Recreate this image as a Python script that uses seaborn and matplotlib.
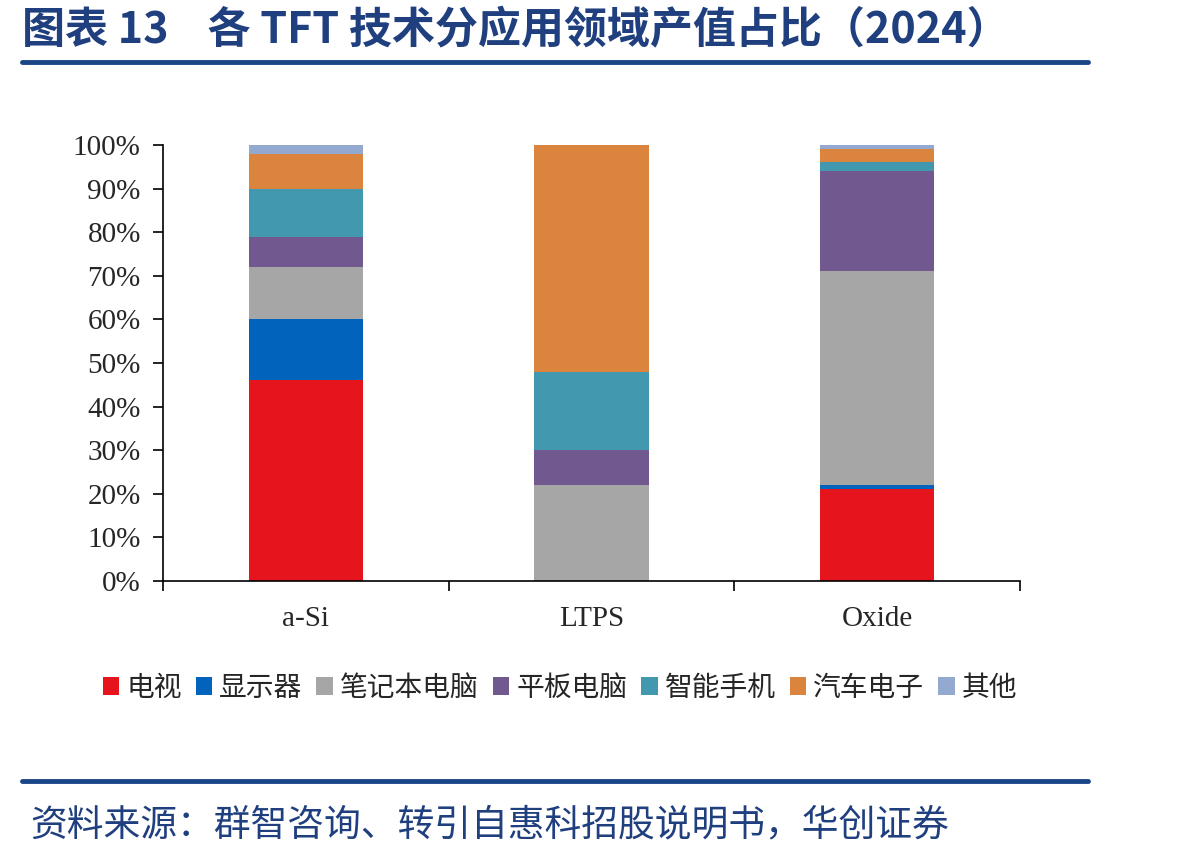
import matplotlib
matplotlib.use("Agg")
import matplotlib.pyplot as plt
from matplotlib.patches import Patch
import seaborn as sns
import pandas as pd
import numpy as np

categories = ["a-Si", "LTPS", "Oxide"]
series_names = ["电视", "显示器", "笔记本电脑", "平板电脑", "智能手机", "汽车电子", "其他"]
tv = [46, 0, 21]
monitor = [14, 0, 1]
notebook = [12, 22, 49]
tablet = [7, 8, 23]
phone = [11, 18, 2]
auto = [8, 52, 3]
other = [2, 0, 1]
colors = ["#E5141D", "#0263BC", "#A6A6A6", "#71588F", "#4198AF", "#DB843D", "#93A9CF"]
yticks = [0, 10, 20, 30, 40, 50, 60, 70, 80, 90, 100]

sns.set_theme(style="white")
plt.rcParams['font.family'] = ['Noto Sans CJK SC', 'DejaVu Sans']

fig = plt.figure(figsize=(11.98, 8.57), dpi=100)
ax = fig.add_axes([163/1198, 1-581/857, (1020-163)/1198, (581-145)/857])

all_series = [tv, monitor, notebook, tablet, phone, auto, other]
bottom = np.zeros(len(categories))
for name, vals, col in zip(series_names, all_series, colors):
    df = pd.DataFrame({"cat": categories, "val": np.array(vals) / 100.0})
    sns.barplot(data=df, x="cat", y="val", color=col, bottom=bottom.copy(),
                width=0.4, ax=ax, errorbar=None, saturation=1, linewidth=0)
    bottom += np.array(vals) / 100.0

ax.set_xlim(-0.5, 2.5)
ax.set_ylim(0, 1.0)
ax.set_yticks([v / 100 for v in yticks])
ax.set_yticklabels([f"{v}%" for v in yticks], fontfamily="Liberation Serif", fontsize=21)
ax.set_xticks([0, 1, 2])
ax.set_xticklabels(categories, fontfamily="Liberation Serif", fontsize=21)
ax.tick_params(axis="x", length=0, pad=18)
ax.set_xticks([-0.5, 0.5, 1.5, 2.5], minor=True)
ax.tick_params(axis="x", which="minor", length=7, width=1.2, direction="out", color="black", bottom=True)
ax.tick_params(axis="y", length=7, width=1.2, direction="out", color="black", left=True, pad=9)
ax.set_xlabel("")
ax.set_ylabel("")
for s in ["top", "right"]:
    ax.spines[s].set_visible(False)
for s in ["left", "bottom"]:
    ax.spines[s].set_color("black")
    ax.spines[s].set_linewidth(1.2)

handles = [Patch(facecolor=c, edgecolor="none") for c in colors]
fig.legend(handles, series_names, loc="center", bbox_to_anchor=(560/1198, 1-688/857),
           ncol=7, frameon=False, handlelength=0.6, handleheight=0.6, handletextpad=0.25,
           columnspacing=0.5, prop={"family": "Noto Sans CJK SC", "size": 20})

navy = "#1F3F7F"
fig.text(22/1198, 1-30/857, "图表 13    各 TFT 技术分应用领域产值占比（2024）", fontsize=31,
         fontweight="bold", color=navy, ha="left", va="center")
fig.add_artist(plt.Line2D([22/1198, 1088/1198], [1-62/857, 1-62/857], color="#1A4587", linewidth=3.5))
fig.add_artist(plt.Line2D([22/1198, 1088/1198], [1-781/857, 1-781/857], color="#1A4587", linewidth=3.5))
fig.text(30/1198, 1-825/857, "资料来源：群智咨询、转引自惠科招股说明书，华创证券", fontsize=26.5,
         color=navy, ha="left", va="center")

fig.savefig("out.png", dpi=100)
